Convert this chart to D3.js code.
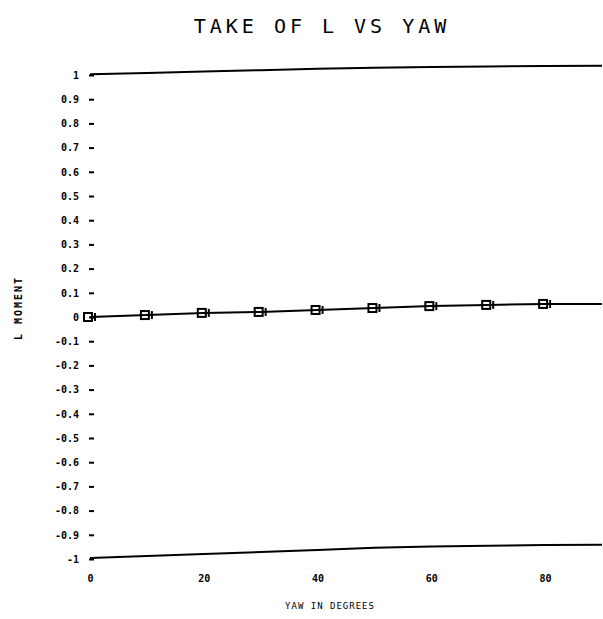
<!DOCTYPE html>
<html>
<head>
<meta charset="utf-8">
<script src="https://cdn.jsdelivr.net/npm/d3@7"></script>
<style>
	body { margin: 0; background: #fff; }
	text { font-family: "DejaVu Sans Mono", monospace; fill: #000; }
</style>
</head>
<body>
<svg width="603" height="619"></svg>
<script>
// values
var yaw = [0, 10, 20, 30, 40, 50, 60, 70, 80, 90];
var upper = [1.003, 1.008, 1.014, 1.02, 1.026, 1.03, 1.033, 1.035, 1.037, 1.038];
var middle = [0, 0.008, 0.017, 0.021, 0.029, 0.037, 0.045, 0.05, 0.054, 0.054];
var lower = [-0.996, -0.988, -0.979, -0.971, -0.963, -0.954, -0.948, -0.945, -0.942, -0.941];
var xTicks = [0, 20, 40, 60, 80];
var yTicks = d3.range(-10, 11).map(function(i){ return i / 10; });

var svg = d3.select("svg");
var x = d3.scaleLinear().domain([0, 90]).range([90, 602]);
var y = d3.scaleLinear().domain([-1, 1]).range([559, 75]);

// title
svg.append("text")
	.attr("x", 322)
	.attr("y", 33)
	.attr("text-anchor", "middle")
	.style("font-size", "20px")
	.style("letter-spacing", "4px")
	.text("TAKE OF L VS YAW");

// y axis, ticks only
var yAxis = svg.append("g")
	.attr("transform", "translate(89,0)")
	.call(d3.axisLeft(y)
		.tickValues(yTicks)
		.tickSize(-5)
		.tickPadding(10)
		.tickFormat(function(d){ return d === 0 ? "0" : String(+d.toFixed(1)); }));
yAxis.select(".domain").remove();
yAxis.selectAll("text").style("font-size", "10px").style("font-weight", "bold");
yAxis.selectAll("line").attr("stroke-width", 2);

// x axis labels
var xAxis = svg.append("g")
	.attr("transform", "translate(0,565)")
	.call(d3.axisBottom(x).tickValues(xTicks).tickSize(0).tickPadding(10));
xAxis.select(".domain").remove();
xAxis.selectAll("text").style("font-size", "10px").style("font-weight", "bold");

// axis titles
svg.append("text")
	.attr("x", 330)
	.attr("y", 609)
	.attr("text-anchor", "middle")
	.style("font-size", "9px")
	.style("letter-spacing", "1px")
	.text("YAW IN DEGREES");

svg.append("text")
	.attr("transform", "translate(22,308) rotate(-90)")
	.attr("text-anchor", "middle")
	.style("font-size", "10px")
	.style("font-weight", "bold")
	.style("letter-spacing", "2px")
	.text("L MOMENT");

// lines
var line = d3.line()
	.x(function(d){ return x(d[0]); })
	.y(function(d){ return y(d[1]); });

[upper, middle, lower].forEach(function(series){
	svg.append("path")
		.datum(yaw.map(function(v, i){ return [v, series[i]]; }))
		.attr("fill", "none")
		.attr("stroke", "#000")
		.attr("stroke-width", 2)
		.attr("d", line);
});

// markers on middle series
var pts = yaw.slice(0, 9).map(function(v, i){ return [v, middle[i]]; });
var mk = svg.selectAll(".mk")
	.data(pts)
	.enter()
	.append("g")
	.attr("class", "mk")
	.attr("transform", function(d){ return "translate(" + x(d[0]) + "," + y(d[1]) + ")"; });
mk.append("rect")
	.attr("x", -6)
	.attr("y", -4)
	.attr("width", 8)
	.attr("height", 8)
	.attr("fill", "none")
	.attr("stroke", "#000")
	.attr("stroke-width", 2);
mk.append("line")
	.attr("x1", 5).attr("x2", 5)
	.attr("y1", -4).attr("y2", 4)
	.attr("stroke", "#000")
	.attr("stroke-width", 2);
</script>
</body>
</html>
